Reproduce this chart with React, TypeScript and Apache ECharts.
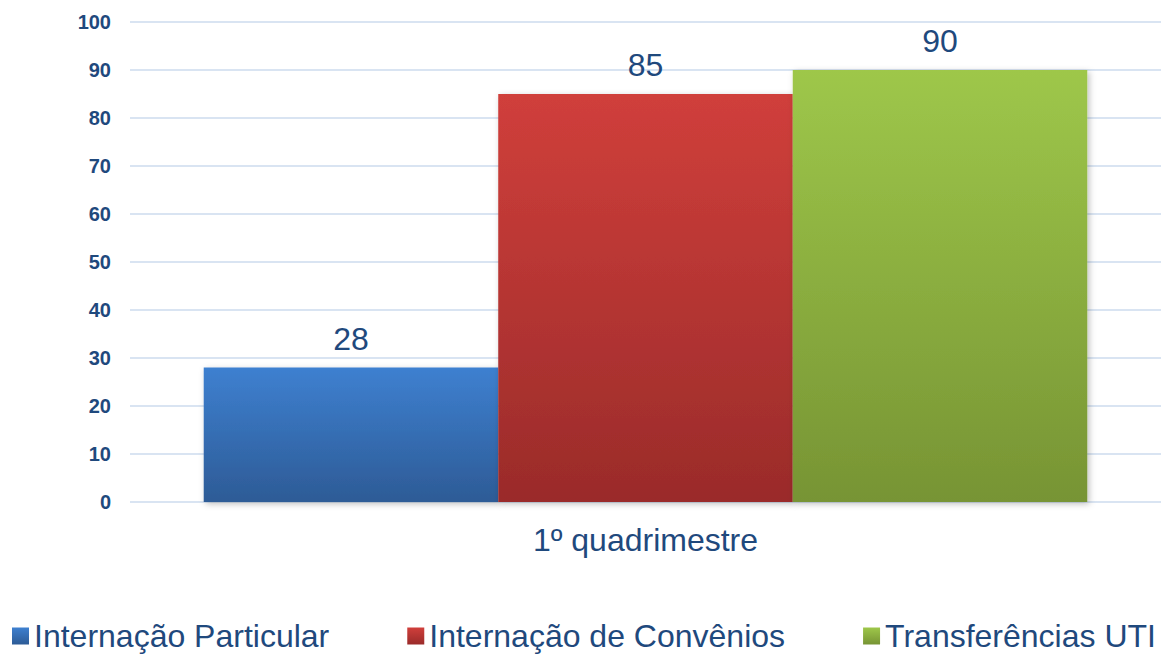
import React, { useEffect, useRef } from "react";
import * as echarts from "echarts";

const categories = ["1º quadrimestre"];
const seriesNames = ["Internação Particular", "Internação de Convênios", "Transferências UTI"];
const particular = [28];
const convenios = [85];
const uti = [90];
const yTicks = { min: 0, max: 100, interval: 10 };

const FONT = "Arial, 'Liberation Sans', sans-serif";
const TEXT = "#1F497D";

const grad = (top: string, bottom: string) =>
  new echarts.graphic.LinearGradient(0, 0, 0, 1, [
    { offset: 0, color: top },
    { offset: 1, color: bottom },
  ]);

export default function App() {
  const ref = useRef<HTMLDivElement>(null);
  useEffect(() => {
    if (!ref.current) return;
    const chart = echarts.init(ref.current, undefined, { renderer: "svg" });
    const mk = (name: string, data: number[], top: string, bottom: string) => ({
      name,
      type: "bar",
      data,
      barGap: "0%",
      barCategoryGap: "14.3%",
      itemStyle: {
        color: grad(top, bottom),
        shadowColor: "rgba(0,0,0,0.25)",
        shadowBlur: 6,
        shadowOffsetX: 2,
        shadowOffsetY: 2,
      },
      label: {
        show: true,
        position: "top",
        distance: 13,
        fontSize: 32,
        fontFamily: FONT,
        color: TEXT,
      },
    });
    chart.setOption({
      animation: false,
      backgroundColor: "#ffffff",
      grid: { left: 130, right: 2, top: 22, bottom: 152, containLabel: false, outerBoundsMode: "none" },
      legend: {
        data: seriesNames,
        left: 12,
        top: 620,
        padding: 0,
        itemWidth: 17,
        itemHeight: 17,
        itemGap: 78,
        icon: "rect",
        textStyle: { fontSize: 32, lineHeight: 26, fontFamily: FONT, color: TEXT },
      },
      xAxis: {
        type: "category",
        data: categories,
        axisLine: { show: false },
        axisTick: { show: false },
        axisLabel: { fontSize: 32, fontFamily: FONT, color: TEXT, margin: 22 },
      },
      yAxis: {
        type: "value",
        min: yTicks.min,
        max: yTicks.max,
        interval: yTicks.interval,
        axisLine: { show: false },
        axisTick: { show: false },
        axisLabel: { fontSize: 20, fontWeight: "bold", fontFamily: FONT, color: TEXT, margin: 19 },
        splitLine: { lineStyle: { color: "#D9E4F2", width: 2 } },
      },
      series: [
        mk(seriesNames[0], particular, "#3E80D0", "#2D5B96"),
        mk(seriesNames[1], convenios, "#D03F3B", "#9A2B2A"),
        mk(seriesNames[2], uti, "#9EC74A", "#779434"),
      ],
    });
    return () => chart.dispose();
  }, []);
  return (
    <div
      ref={ref}
      style={{ position: "absolute", left: 0, top: 0, width: 1163, height: 654, background: "#fff" }}
    />
  );
}
